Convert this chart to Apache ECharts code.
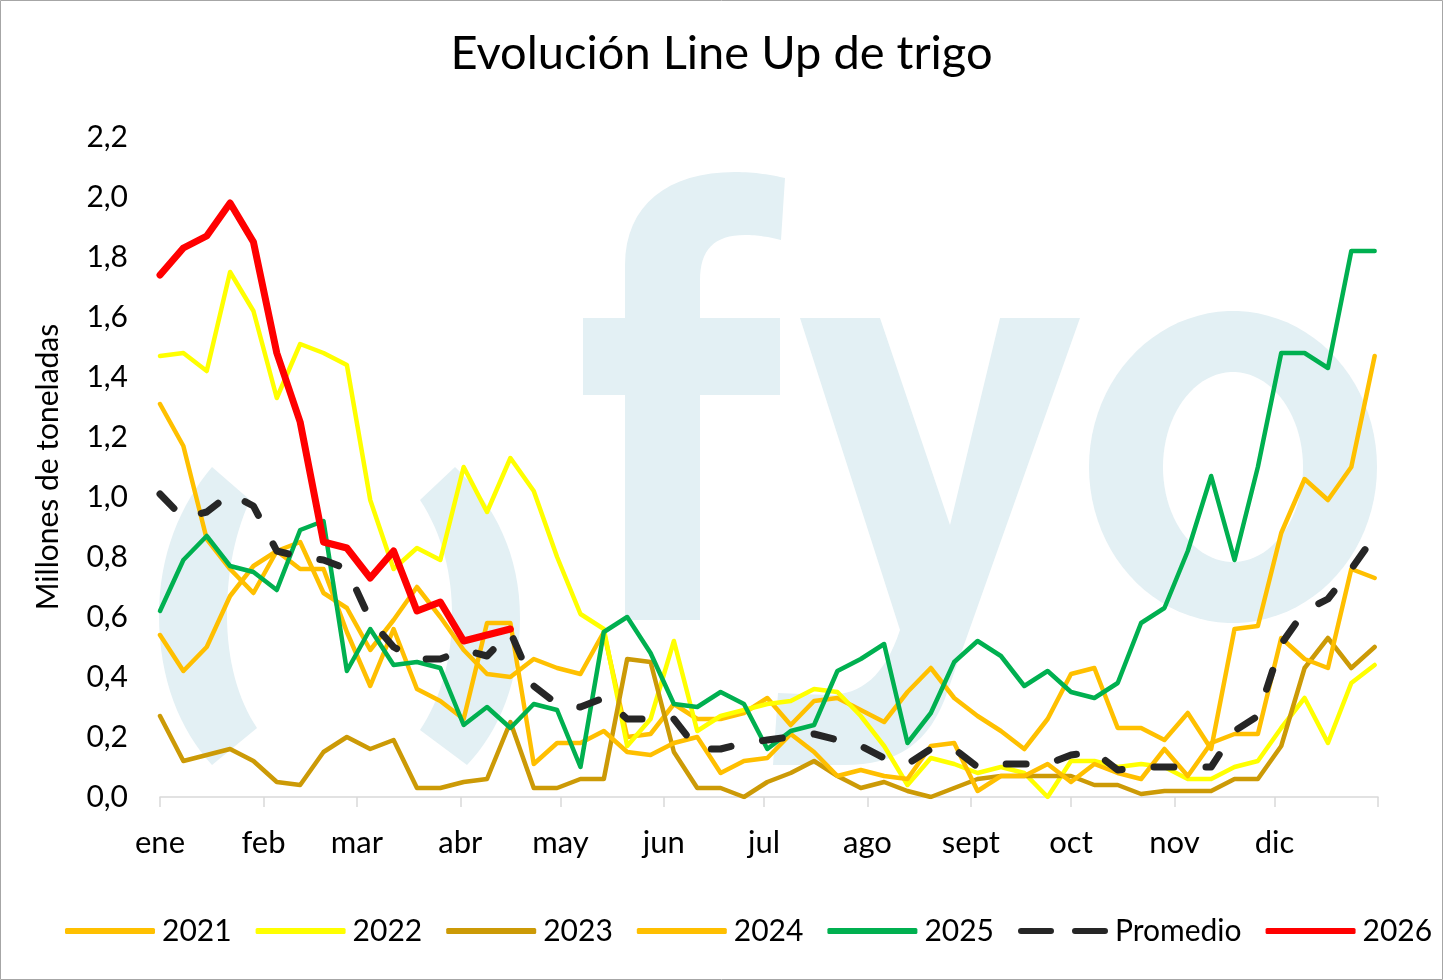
<!DOCTYPE html>
<html><head><meta charset="utf-8">
<script src="https://cdn.jsdelivr.net/npm/echarts@6/dist/echarts.min.js"></script>
<style>html,body{margin:0;padding:0;background:#fff}#c{width:1443px;height:980px}</style>
</head><body><div id="c"></div>
<script>
// ---- data ----
const monthStarts = [0,31,59,90,120,151,181,212,243,273,304,334];
const monthLabels = ['ene','feb','mar','abr','may','jun','jul','ago','sept','oct','nov','dic'];
const yearEnd = 365;
const daysPerWeek = 7;
const seriesNames = ['2021','2022','2023','2024','2025','Promedio','2026'];

const s2021 = [1.31,1.17,0.86,0.76,0.68,0.82,0.85,0.68,0.63,0.49,0.59,0.70,0.60,0.49,0.41,0.40,0.46,0.43,0.41,0.55,0.20,0.21,0.31,0.26,0.26,0.28,0.33,0.24,0.32,0.33,0.29,0.25,0.35,0.43,0.33,0.27,0.22,0.16,0.26,0.41,0.43,0.23,0.23,0.19,0.28,0.16,0.56,0.57,0.88,1.06,0.99,1.10,1.47];
const s2022 = [1.47,1.48,1.42,1.75,1.62,1.33,1.51,1.48,1.44,0.99,0.76,0.83,0.79,1.10,0.95,1.13,1.02,0.80,0.61,0.56,0.17,0.26,0.52,0.22,0.27,0.29,0.31,0.32,0.36,0.35,0.27,0.17,0.04,0.13,0.11,0.08,0.10,0.08,0.00,0.12,0.12,0.10,0.11,0.10,0.06,0.06,0.10,0.12,0.23,0.33,0.18,0.38,0.44];
const s2023 = [0.27,0.12,0.14,0.16,0.12,0.05,0.04,0.15,0.20,0.16,0.19,0.03,0.03,0.05,0.06,0.25,0.03,0.03,0.06,0.06,0.46,0.45,0.15,0.03,0.03,0.00,0.05,0.08,0.12,0.07,0.03,0.05,0.02,0.00,0.03,0.06,0.07,0.07,0.07,0.07,0.04,0.04,0.01,0.02,0.02,0.02,0.06,0.06,0.17,0.43,0.53,0.43,0.50];
const s2024 = [0.54,0.42,0.50,0.67,0.77,0.82,0.76,0.76,0.55,0.37,0.56,0.36,0.32,0.26,0.58,0.58,0.11,0.18,0.18,0.22,0.15,0.14,0.18,0.20,0.08,0.12,0.13,0.21,0.15,0.07,0.09,0.07,0.06,0.17,0.18,0.02,0.07,0.07,0.11,0.05,0.11,0.08,0.06,0.16,0.07,0.18,0.21,0.21,0.53,0.46,0.43,0.76,0.73];
const s2025 = [0.62,0.79,0.87,0.77,0.75,0.69,0.89,0.92,0.42,0.56,0.44,0.45,0.43,0.24,0.30,0.23,0.31,0.29,0.10,0.55,0.60,0.48,0.31,0.30,0.35,0.31,0.16,0.22,0.24,0.42,0.46,0.51,0.18,0.28,0.45,0.52,0.47,0.37,0.42,0.35,0.33,0.38,0.58,0.63,0.82,1.07,0.79,1.10,1.48,1.48,1.43,1.82,1.82];
const sPromedio = [1.01,0.93,0.95,1.01,0.97,0.82,0.80,0.79,0.76,0.59,0.50,0.46,0.46,0.49,0.47,0.55,0.37,0.31,0.30,0.33,0.26,0.26,0.26,0.16,0.16,0.18,0.19,0.20,0.21,0.19,0.17,0.13,0.11,0.16,0.16,0.10,0.11,0.11,0.11,0.14,0.15,0.09,0.10,0.10,0.10,0.10,0.22,0.27,0.51,0.62,0.66,0.76,0.87];
const s2026 = [1.74,1.83,1.87,1.98,1.85,1.48,1.25,0.85,0.83,0.73,0.82,0.62,0.65,0.52,0.54,0.56];

// ---- watermark helpers (decoration only) ----
function shapePts(start, segs) {
  const pts = [start.slice()];
  let cur = start.slice();
  segs.forEach(s => {
    if (s[0] === 'L') { cur = [s[1], s[2]]; pts.push(cur); }
    else if (s[0] === 'C') {
      const [_, x1, y1, x2, y2, x, y] = s;
      for (let k = 1; k <= 16; k++) {
        const t = k / 16, u = 1 - t;
        pts.push([u*u*u*cur[0] + 3*u*u*t*x1 + 3*u*t*t*x2 + t*t*t*x,
                  u*u*u*cur[1] + 3*u*u*t*y1 + 3*u*t*t*y2 + t*t*t*y]);
      }
      cur = [x, y];
    }
  });
  return pts;
}
function ellipsePts(cx, cy, rx, ry) {
  const pts = [];
  for (let k = 0; k < 90; k++) { const a = k / 90 * Math.PI * 2; pts.push([cx + rx*Math.cos(a), cy + ry*Math.sin(a)]); }
  return pts;
}

// ---- build ----
const FONT = 'Lato';
const fmt = v => v.toFixed(2).replace('.', ',');
const toPts = arr => arr.map((v, i) => [i * daysPerWeek, v]);

function lineSeries(name, arr, color, width, extra) {
  return Object.assign({
    name, type: 'line', data: toPts(arr), symbol: 'none', smooth: false,
    lineStyle: { color, width, cap: 'round', join: 'round' },
    itemStyle: { color }, emphasis: { disabled: true }, animation: false
  }, extra || {});
}

const redData = toPts(s2026);
const last = redData.length - 1;
redData[last] = {
  value: redData[last],
  label: { show: true, position: 'right', distance: 28, color: '#000', fontFamily: FONT, fontSize: 30,
           formatter: p => fmt(p.value[1]) }
};

const WM = '#E3F0F4';
const wmShapes = [
  shapePts([212,467], [['L',250,500],['C',232,540,227,580,227,615],['C',227,660,238,700,257,728],['L',212,765],['C',180,730,159,680,159,615],['C',159,555,180,505,212,467]]),
  shapePts([455,467], [['C',495,505,520,555,520,618],['C',520,680,500,730,467,765],['L',420,730],['C',440,700,452,660,452,615],['C',452,575,443,535,420,500]]),
  shapePts([625,620], [['L',625,395],['L',583,395],['L',583,318],['L',625,318],['L',625,265],['C',625,205,668,172,735,172],['C',755,172,772,175,785,178],['L',781,240],['C',770,237,757,235,745,235],['C',714,235,700,250,700,280],['L',700,318],['L',780,318],['L',780,395],['L',700,395],['L',700,620]]),
  shapePts([800,318], [['L',880,318],['L',950,525],['L',1000,318],['L',1080,318],['L',948,690],['C',930,745,895,765,845,765],['L',773,765],['L',778,693],['L',828,695],['C',862,695,885,675,900,630]]),
  ellipsePts(1233, 467, 144, 156)
];
const graphics = wmShapes.map(p => ({ type: 'polygon', z: -10, silent: true, shape: { points: p }, style: { fill: WM } }));
graphics.push({ type: 'polygon', z: -9, silent: true, shape: { points: ellipsePts(1233, 467, 70, 95) }, style: { fill: '#fff' } });
graphics.push({ type: 'rect', z: 100, silent: true, shape: { x: 0.5, y: 0.5, width: 1442, height: 979 },
                style: { fill: 'none', stroke: '#A6A6A6', lineWidth: 1 } });

const legendData = seriesNames.map(n => n === 'Promedio'
  ? { name: n, icon: 'path://M3,0H33A3,3 0 0 1 33,6H3A3,3 0 0 1 3,0Z M57,0H87A3,3 0 0 1 87,6H57A3,3 0 0 1 57,0Z' }
  : { name: n, icon: 'roundRect' });

const chart = echarts.init(document.getElementById('c'));
chart.setOption({
  backgroundColor: '#fff',
  animation: false,
  title: {
    text: 'Evolución Line Up de trigo', left: 'center', top: 25,
    textStyle: { fontFamily: FONT, fontSize: 47, fontWeight: 'normal', color: '#000' }
  },
  graphic: graphics,
  grid: { left: 160, right: 65, top: 137, bottom: 183, containLabel: false },
  legend: {
    data: legendData, left: 60, top: 911, itemWidth: 90, itemHeight: 6, itemGap: 24,
    textStyle: { fontFamily: FONT, fontSize: 30, color: '#000', padding: [0, 0, 0, 2] },
    selectedMode: false
  },
  xAxis: {
    type: 'value', min: 0, max: yearEnd,
    axisLine: { show: true, lineStyle: { color: '#D9D9D9', width: 1.5 } },
    axisTick: { show: true, length: 10, lineStyle: { color: '#D9D9D9', width: 1.5 },
                customValues: monthStarts.concat([yearEnd]) },
    axisLabel: { customValues: monthStarts, margin: 30, fontFamily: FONT, fontSize: 31, color: '#000',
                 formatter: v => monthLabels[monthStarts.indexOf(v)] || '' },
    splitLine: { show: false }
  },
  yAxis: {
    type: 'value', min: 0, max: 2.2, interval: 0.2,
    name: 'Millones de toneladas', nameLocation: 'middle', nameGap: 97, nameRotate: 90,
    nameTextStyle: { fontFamily: FONT, fontSize: 30, color: '#000' },
    axisLine: { show: false }, axisTick: { show: false },
    axisLabel: { margin: 32, fontFamily: FONT, fontSize: 30, color: '#000',
                 formatter: v => v.toFixed(1).replace('.', ',') },
    splitLine: { show: false }
  },
  series: [
    lineSeries('2021', s2021, '#FFC000', 4.5),
    lineSeries('2022', s2022, '#FFFF00', 4.5),
    lineSeries('2023', s2023, '#CC9A06', 4.5),
    lineSeries('2024', s2024, '#FFBF00', 4.5),
    lineSeries('2025', s2025, '#00B050', 4.5),
    lineSeries('Promedio', sPromedio, '#262626', 7, { lineStyle: { color: '#262626', width: 7, type: [20, 32], cap: 'round', join: 'round' } }),
    Object.assign(lineSeries('2026', s2026, '#FF0000', 7), { data: redData })
  ]
});
</script></body></html>
